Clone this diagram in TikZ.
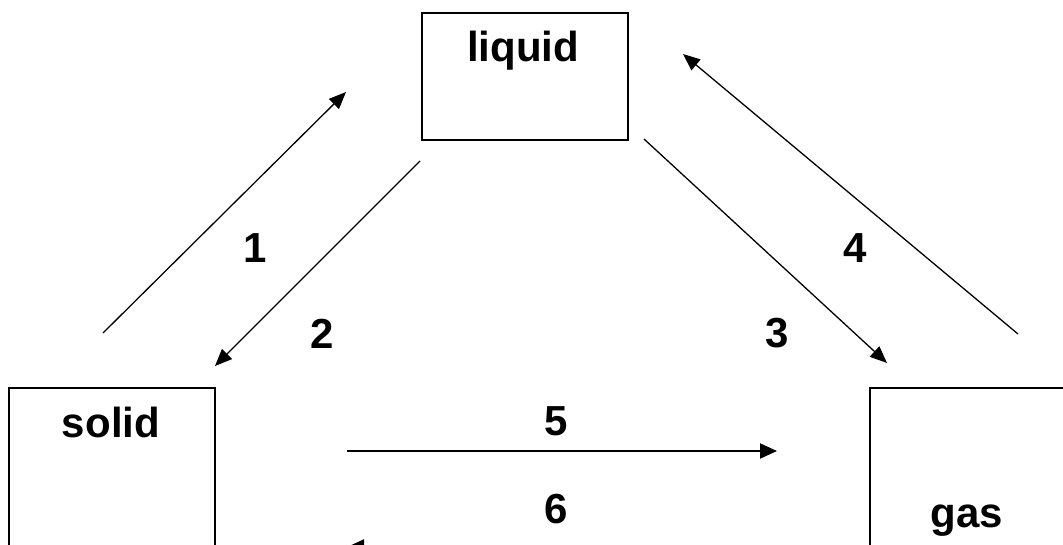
\documentclass[tikz,border=0pt]{standalone}
\usepackage{fontspec}
\setmainfont{Liberation Sans}
\usetikzlibrary{arrows.meta}
\begin{document}
\begin{tikzpicture}[x=1pt,y=-1pt,
  phasebox/.style={draw=black,line width=1.6pt,rectangle,inner sep=0pt,anchor=north west},
  phasename/.style={font=\fontsize{42}{42}\selectfont\bfseries,anchor=base,inner sep=0pt},
  numlabel/.style={font=\fontsize{42}{42}\selectfont\bfseries,anchor=base,inner sep=0pt},
  flow/.style={line width=1.3pt,-{Triangle[length=17pt,width=14pt]}},
  flowthick/.style={line width=2pt,-{Triangle[length=17pt,width=15pt]}}]
\useasboundingbox (0,0) rectangle (1063,544);
\clip (0,0) rectangle (1063,544);

% phase boxes
\node[phasebox,minimum width=206pt,minimum height=127pt] (liqbox) at (421,12) {};
\node[phasebox,minimum width=206pt,minimum height=200pt] (solbox) at (8,387) {};
\node[phasebox,minimum width=240pt,minimum height=200pt] (gasbox) at (869,387) {};

\node[phasename] (liq) at (523,61) {liquid};
\node[phasename] (sol) at (111,437) {solid};
\node[phasename] (gas) at (967,527) {gas};

% arrow end points
\coordinate (a1s) at (103,333); \coordinate (a1e) at (346,92);
\coordinate (a2s) at (420,161); \coordinate (a2e) at (215,366);
\coordinate (a3s) at (644,139); \coordinate (a3e) at (887,363);
\coordinate (a4s) at (1018,334); \coordinate (a4e) at (683,54);
\coordinate (a5s) at (347,451); \coordinate (a5e) at (777,451);
\coordinate (a6s) at (777,547); \coordinate (a6e) at (347,547);

\draw[flow] (a1s) -- (a1e);
\draw[flow] (a2s) -- (a2e);
\draw[flow] (a3s) -- (a3e);
\draw[flow] (a4s) -- (a4e);
\draw[flowthick] (a5s) -- (a5e);
\draw[flowthick] (a6s) -- (a6e);

% process numbers
\node[numlabel] (n1) at (255,262) {1};
\node[numlabel] (n2) at (322,348) {2};
\node[numlabel] (n3) at (777,347) {3};
\node[numlabel] (n4) at (855,262) {4};
\node[numlabel] (n5) at (556,435) {5};
\node[numlabel] (n6) at (556,523) {6};
\end{tikzpicture}
\end{document}
